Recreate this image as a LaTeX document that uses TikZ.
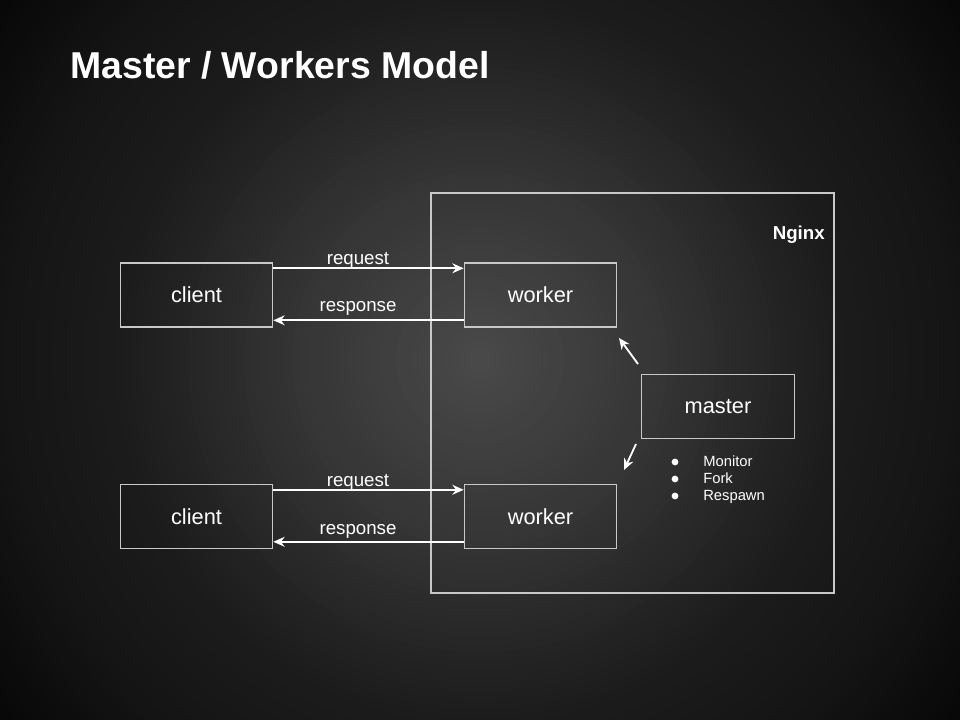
\documentclass[tikz,border=0pt]{standalone}
\usepackage{fontspec}
\setmainfont{Liberation Sans}
\usetikzlibrary{arrows.meta, positioning}
\definecolor{edgegray}{RGB}{200,200,200}
\tikzset{
    box/.style={draw=edgegray, line width=0.8pt, rectangle, minimum height=45.5pt, minimum width=108.5pt,
        text=white, font=\fontsize{15.5}{18}\selectfont, inner sep=0pt},
    msg/.style={white, line width=1.3pt, -{Stealth[length=8pt, width=7pt]}},
    lbl/.style={text=white, font=\fontsize{13.3}{16}\selectfont, inner sep=0pt, anchor=base}
}

\begin{document}
\begin{tikzpicture}[x=0.025cm, y=-0.025cm]
    \useasboundingbox (0,0) rectangle (960,720);
    % background glow
    \begin{scope}
        \clip (0,0) rectangle (960,720);
        \foreach \r in {620,612,...,4} {
            \pgfmathsetmacro\p{\r<180 ? 71+8*\r/180 : (\r<360 ? 79+10*(\r-180)/180 : (\r<480 ? 89+3*(\r-360)/120 : min(97,92+5*(\r-480)/120)))}
            \fill[black!\p!white] (480,360) circle [radius=\r*0.025cm];
        }
    \end{scope}

    \node[anchor=base west, text=white, font=\bfseries\fontsize{26.6}{32}\selectfont, inner sep=0pt] (title) at (70,79) {Master / Workers Model};

    % nginx frame
    \draw[edgegray, line width=0.8pt] (431,193) rectangle (834,593);
    \node[anchor=base east, text=white, font=\bfseries\fontsize{13.3}{16}\selectfont, inner sep=0pt] (nginx) at (825,240) {Nginx};

    \node[box] (client1) at (196.5,295) {client};
    \node[box] (worker1) at (540.5,295) {worker};
    \node[box] (client2) at (196.5,516.5) {client};
    \node[box] (worker2) at (540.5,516.5) {worker};
    \node[box] (master) at (718,406.5) {master};

    \draw[msg] ([yshift=19pt]client1.east) -- ([yshift=19pt]worker1.west);
    \draw[msg] ([yshift=-18pt]worker1.west) -- ([yshift=-18pt]client1.east);
    \node[lbl] (req1) at (358,265) {request};
    \node[lbl] (resp1) at (358,312) {response};

    \draw[msg] ([yshift=19pt]client2.east) -- ([yshift=19pt]worker2.west);
    \draw[msg] ([yshift=-18pt]worker2.west) -- ([yshift=-18pt]client2.east);
    \node[lbl] (req2) at (358,487) {request};
    \node[lbl] (resp2) at (358,534) {response};

    % master supervises workers
    \coordinate (m1) at (638,364);
    \coordinate (w1) at (619,338);
    \coordinate (m2) at (636,444);
    \coordinate (w2) at (624,470);
    \draw[msg] (m1) -- (w1);
    \draw[msg] (m2) -- (w2);

    \foreach \y/\txt in {462/Monitor, 479/Fork, 496/Respawn} {
        \fill[white] (675,\y) circle (2.4pt);
        \node[anchor=base west, text=white, font=\fontsize{10.5}{12}\selectfont, inner sep=0pt] (item\txt) at (703,\y+5) {\txt};
    }
\end{tikzpicture}
\end{document}
